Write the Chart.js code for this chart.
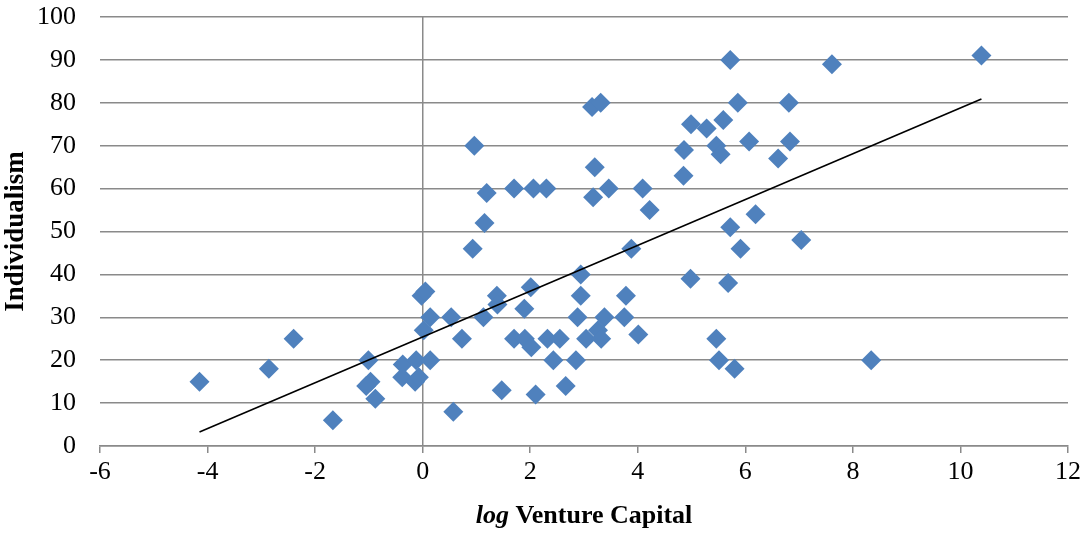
<!DOCTYPE html>
<html>
<head>
<meta charset="utf-8">
<script src="https://cdn.jsdelivr.net/npm/chart.js@4/dist/chart.umd.min.js"></script>
<style>
  html, body { margin: 0; padding: 0; background: #fff; }
  #wrap { width: 1085px; height: 534px; }
</style>
</head>
<body>
<div id="wrap"><canvas id="chart" width="1085" height="534"></canvas></div>
<script>
// log venture capital (x) and individualism (y)
const logVC = [
  -4.15, -2.86, -2.40, -1.67, -1.01, -0.97, -1.05, -0.88, -0.37, -0.38,
  -0.12, -0.14, -0.07, 0.14, 0.02, 0.14, -0.02, 0.05, 0.53, 0.73,
  0.57, 0.96, 1.19, 1.15, 0.93, 1.13, 1.38, 1.39, 1.47, 1.70,
  1.70, 1.89, 1.90, 2.01, 2.02, 2.06, 2.10, 2.30, 2.32, 2.43,
  2.55, 2.66, 2.85, 2.88, 2.94, 2.94, 3.04, 3.17, 3.20, 3.26,
  3.32, 3.38, 3.46, 3.75, 3.78, 3.88, 4.01, 4.09, 4.22, 3.15,
  3.31, 5.72, 7.61, 5.86, 6.81, 4.99, 5.28, 5.59, 4.86, 5.46,
  5.54, 6.07, 6.83, 6.61, 4.85, 6.19, 5.72, 7.04, 5.91, 4.98,
  5.68, 5.46, 5.51, 5.80, 8.34, 10.39
];
const individualism = [
  15, 18, 25, 6, 20, 15, 14, 11, 19, 16,
  20, 15, 16, 20, 27, 30, 35, 36, 30, 25,
  8, 70, 59, 52, 46, 30, 35, 33, 13, 60,
  25, 32, 25, 37, 23, 60, 12, 60, 25, 20,
  25, 14, 20, 30, 35, 40, 25, 58, 65, 27,
  25, 30, 60, 30, 35, 46, 26, 60, 55, 79,
  80, 90, 89, 80, 80, 75, 74, 76, 69, 70,
  68, 71, 71, 67, 63, 54, 51, 48, 46, 39,
  38, 25, 20, 18, 20, 91
];
// linear trend line as drawn
const trendSlope = 5.34;
const trendIntercept = 25.4;

const xTicks = [-6, -4, -2, 0, 2, 4, 6, 8, 10, 12];
const yTicks = [0, 10, 20, 30, 40, 50, 60, 70, 80, 90, 100];

const points = logVC.map((x, i) => ({ x: x, y: individualism[i] }));
const xMin = Math.min(...logVC);
const xMax = Math.max(...logVC);
const trend = [xMin, xMax].map(x => ({ x: x, y: trendIntercept + trendSlope * x }));

const gridGray = '#8a8a8a';
const tickFont = { family: "'Liberation Serif', 'Times New Roman', serif", size: 26 };

// axis titles ("log" is italic in the x title)
const axisTitles = {
  id: 'axisTitles',
  afterDraw(chart) {
    const ctx = chart.ctx;
    const area = chart.chartArea;
    ctx.save();
    ctx.fillStyle = '#000';
    ctx.textBaseline = 'middle';

    const f = "'Liberation Serif', 'Times New Roman', serif";
    const part1 = 'log ';
    const part2 = 'Venture Capital';
    ctx.font = 'italic bold 26px ' + f;
    const w1 = ctx.measureText(part1).width;
    ctx.font = 'bold 26px ' + f;
    const w2 = ctx.measureText(part2).width;
    let x = (area.left + area.right) / 2 - (w1 + w2) / 2;
    const y = 516;
    ctx.textAlign = 'left';
    ctx.font = 'italic bold 26px ' + f;
    ctx.fillText(part1, x, y);
    ctx.font = 'bold 26px ' + f;
    ctx.fillText(part2, x + w1, y);

    ctx.translate(16, (area.top + area.bottom) / 2);
    ctx.rotate(-Math.PI / 2);
    ctx.textAlign = 'center';
    ctx.font = 'bold 27px ' + f;
    ctx.fillText('Individualism', 0, 0);
    ctx.restore();
  }
};

const ctx = document.getElementById('chart').getContext('2d');
new Chart(ctx, {
  type: 'scatter',
  data: {
    datasets: [
      {
        type: 'line',
        data: trend,
        borderColor: '#000',
        borderWidth: 1.6,
        pointRadius: 0,
        fill: false,
        order: 0
      },
      {
        data: points,
        pointStyle: 'rectRot',
        pointRadius: 10,
        backgroundColor: '#4F81BD',
        borderColor: '#4F81BD',
        borderWidth: 0,
        order: 1
      }
    ]
  },
  options: {
    responsive: false,
    animation: false,
    layout: { padding: { top: 17, right: 15, left: 0, bottom: 0 } },
    plugins: {
      legend: { display: false },
      tooltip: { enabled: false }
    },
    scales: {
      x: {
        type: 'linear',
        min: xTicks[0],
        max: xTicks[xTicks.length - 1],
        afterBuildTicks(scale) { scale.ticks = xTicks.map(v => ({ value: v })); },
        afterFit(scale) { scale.height = 88; },
        grid: {
          color: c => (c.tick && c.tick.value === 0 ? gridGray : 'rgba(0,0,0,0)'),
          tickColor: gridGray,
          lineWidth: 1.5,
          tickLength: 7
        },
        border: { display: true, color: gridGray, width: 1.5 },
        ticks: { color: '#000', font: tickFont, padding: 4, maxRotation: 0 }
      },
      y: {
        type: 'linear',
        min: yTicks[0],
        max: yTicks[yTicks.length - 1],
        afterBuildTicks(scale) { scale.ticks = yTicks.map(v => ({ value: v })); },
        afterFit(scale) {
          scale.width = 100;
          // keep the label padding from pushing the plot area down
          scale.paddingTop = 16;
          scale.paddingBottom = 16;
        },
        grid: { color: gridGray, lineWidth: 1.5, drawTicks: false },
        border: { display: false },
        ticks: { color: '#000', font: tickFont, padding: 24 }
      }
    }
  },
  plugins: [axisTitles]
});
</script>
</body>
</html>
